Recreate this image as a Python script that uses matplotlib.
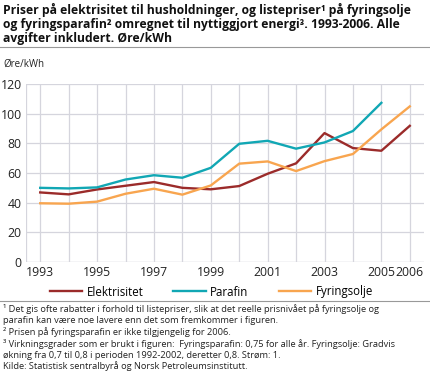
import matplotlib
matplotlib.use("Agg")
import matplotlib.pyplot as plt
from matplotlib.lines import Line2D

plt.rcParams['font.family'] = ['Open Sans', 'DejaVu Sans']

years = list(range(1993, 2007))
elektrisitet = [46.9, 45.6, 48.9, 51.4, 53.9, 50.0, 49.0, 51.2, 59.5, 66.5, 86.9, 76.8, 75.0, 91.8]
parafin = [50.0, 49.6, 50.3, 55.6, 58.5, 56.8, 63.5, 79.7, 81.7, 76.4, 80.6, 88.3, 107.3]
fyringsolje = [39.6, 39.3, 40.7, 46.0, 49.4, 45.4, 51.6, 66.3, 67.8, 61.3, 68.0, 72.8, 89.4, 104.9]

tick_years = [1993, 1995, 1997, 1999, 2001, 2003, 2005, 2006]
y_ticks = [0, 20, 40, 60, 80, 100, 120]

title = ("Priser på elektrisitet til husholdninger, og listepriser¹ på fyringsolje\n"
         "og fyringsparafin² omregnet til nyttiggjort energi³. 1993-2006. Alle\n"
         "avgifter inkludert. Øre/kWh")
notes = [
    "¹ Det gis ofte rabatter i forhold til listepriser, slik at det reelle prisnivået på fyringsolje og",
    "parafin kan være noe lavere enn det som fremkommer i figuren.",
    "² Prisen på fyringsparafin er ikke tilgjengelig for 2006.",
    "³ Virkningsgrader som er brukt i figuren:  Fyringsparafin: 0,75 for alle år. Fyringsolje: Gradvis",
    "økning fra 0,7 til 0,8 i perioden 1992-2002, deretter 0,8. Strøm: 1.",
    "Kilde: Statistisk sentralbyrå og Norsk Petroleumsinstitutt.",
]

colors = {"Elektrisitet": "#9b2b2a", "Parafin": "#11a7b4", "Fyringsolje": "#f8a54f"}
W, H = 431, 380

fig = plt.figure(figsize=(W / 100, H / 100), dpi=100)
ax = fig.add_axes([26 / W, 1 - 262 / H, (424 - 26) / W, (262 - 84) / H])

ax.plot(years, elektrisitet, color=colors["Elektrisitet"], lw=1.7)
ax.plot(years[:len(parafin)], parafin, color=colors["Parafin"], lw=1.7)
ax.plot(years, fyringsolje, color=colors["Fyringsolje"], lw=1.7)

ax.set_xlim(1992.5, 2006.5)
ax.set_ylim(0, 120)
ax.set_yticks(y_ticks)
ax.set_xticks(years)
ax.set_xticklabels([str(y) if y in tick_years else "" for y in years])
ax.grid(True, color="#d5d5dd", lw=0.9)
ax.set_axisbelow(True)
for s in ax.spines.values():
    s.set_visible(False)
ax.axhline(0, color="#d5d5dd", lw=0.9, zorder=0)
ax.axvline(1992.5, color="#d5d5dd", lw=0.9, zorder=0)
ax.tick_params(length=0, labelsize=8.8, colors="#222222", pad=3)

fig.text(3 / W, 1 - 3 / H, title, fontsize=8.7, fontweight="bold", va="top", ha="left",
         linespacing=1.12, color="#111111")
fig.add_artist(Line2D([0, 1], [1 - 47 / H] * 2, color="#999999", lw=0.8))
fig.text(3 / W, 1 - 64 / H, "Øre/kWh", fontsize=7, va="center", ha="left", color="#222222")

handles = [Line2D([], [], color=c, lw=1.7) for c in colors.values()]
fig.legend(handles, list(colors.keys()), loc="center", bbox_to_anchor=(0.49, 1 - 292 / H),
           ncol=3, frameon=False, fontsize=8.3, handlelength=2.8, columnspacing=2.6,
           handletextpad=0.4)
fig.add_artist(Line2D([0, 1], [1 - 301 / H] * 2, color="#999999", lw=0.8))

fig.text(3 / W, 1 - 304 / H, "\n".join(notes), fontsize=6.7, va="top", ha="left",
         linespacing=1.25, color="#222222")

fig.savefig("out.png", dpi=100)
